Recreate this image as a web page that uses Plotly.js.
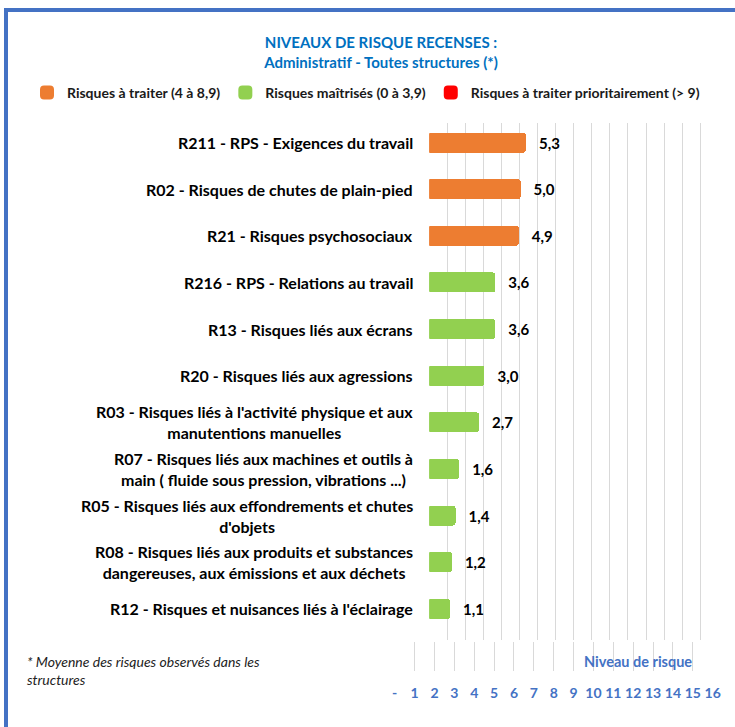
<!DOCTYPE html>
<html>
<head>
<meta charset="utf-8">
<script src="https://cdn.plot.ly/plotly-3.0.1.min.js"></script>
<style>
  html, body { margin: 0; padding: 0; background: #ffffff; }
  #chart { width: 735px; height: 727px; }
  #frame { position: absolute; left: 4px; top: 8px; width: 800px; height: 800px;
           border: 4px solid #4472C4; pointer-events: none; box-sizing: border-box; }
</style>
</head>
<body>
<div id="chart"></div>
<div id="frame"></div>
<script>
// ---- data ----
const categories = [
  "R211 - RPS - Exigences du travail",
  "R02 - Risques de chutes de plain-pied",
  "R21 - Risques psychosociaux",
  "R216 - RPS - Relations au travail",
  "R13 - Risques liés aux écrans",
  "R20 - Risques liés aux agressions",
  "R03 - Risques liés à l'activité physique et aux<br>manutentions manuelles",
  "R07 - Risques liés aux machines et outils à<br>main ( fluide sous pression, vibrations ...)",
  "R05 - Risques liés aux effondrements et chutes<br>d'objets",
  "R08 - Risques liés aux produits et substances<br>dangereuses, aux émissions et aux déchets",
  "R12 - Risques et nuisances liés à l'éclairage"
];
const values = [5.3, 5.0, 4.9, 3.6, 3.6, 3.0, 2.7, 1.6, 1.4, 1.2, 1.1];
const seriesNames = ["Risques à traiter (4 à 8,9)", "Risques maîtrisés (0 à 3,9)", "Risques à traiter prioritairement (> 9)"];
const seriesColors = ["#ED7D31", "#92D050", "#FF0000"];
const levelTicks = [0, 1, 2, 3, 4, 5, 6, 7, 8, 9, 10, 11, 12, 13, 14, 15, 16];
const levelTickLabels = ["-", "1", "2", "3", "4", "5", "6", "7", "8", "9", "10", "11", "12", "13", "14", "15", "16"];

const FONT = "Lato, 'Open Sans', sans-serif";
const W = 735, H = 727;
const px = v => v / W;
const py = v => 1 - v / H;

// class of each category by the legend's thresholds
function levelOf(v) { return v >= 9 ? 2 : (v >= 4 ? 0 : 1); }

const traces = [0, 1, 2].map(k => {
  const ys = [], xs = [];
  categories.forEach((c, i) => { if (levelOf(values[i]) === k) { ys.push(c); xs.push(values[i]); } });
  if (ys.length === 0) { ys.push(categories[0]); xs.push(null); }
  return {
    type: "bar", orientation: "h", name: seriesNames[k],
    y: ys, x: xs,
    marker: { color: seriesColors[k], cornerradius: 2, line: { color: seriesColors[k], width: 2 } },
    text: xs.map(v => v == null ? "" : "\u00a0\u00a0\u00a0" + v.toFixed(1).replace(".", ",")),
    textposition: "outside", cliponaxis: false, constraintext: "none",
    textfont: { family: FONT, size: 15, color: "#000000", weight: 700 },
    hoverinfo: "skip", xaxis: "x", yaxis: "y"
  };
});
// carrier for the lower "Niveau de risque" scale
traces.push({
  type: "scatter", mode: "markers", x: [null], y: [null], xaxis: "x2", yaxis: "y2",
  showlegend: false, hoverinfo: "skip"
});

const annotations = categories.map(c => ({
  xref: "paper", yref: "y", x: px(415), y: c, xanchor: "right", yanchor: "middle",
  align: "center", showarrow: false, text: "<b>" + c + "</b>",
  font: { family: FONT, size: 16, color: "#000000" }
}));
annotations.push({
  xref: "paper", yref: "paper", x: px(25), y: py(651), xanchor: "left", yanchor: "top",
  align: "left", showarrow: false,
  text: "<i>* Moyenne des risques observés dans les<br>structures</i>",
  font: { family: FONT, size: 14, color: "#222222" }
});
annotations.push({
  xref: "paper", yref: "paper", x: px(638), y: py(661), xanchor: "center", yanchor: "middle",
  showarrow: false, text: "<b>Niveau de risque</b>",
  font: { family: FONT, size: 14.5, color: "#4472C4" }
});

const layout = {
  width: W, height: H,
  margin: { l: 0, r: 0, t: 0, b: 0 },
  paper_bgcolor: "#ffffff", plot_bgcolor: "rgba(0,0,0,0)",
  separators: ", ",
  showlegend: true,
  barmode: "stack", bargap: 0.614,
  title: {
    text: "<b>NIVEAUX DE RISQUE RECENSES :</b><br><b>Administratif - Toutes structures (*)</b>",
    font: { family: FONT, size: 15, color: "#0070C0" },
    x: px(381), xanchor: "center", xref: "paper",
    y: py(48), yanchor: "middle", yref: "container"
  },
  legend: {
    orientation: "h", x: px(27), y: py(93), xanchor: "left", yanchor: "middle",
    font: { family: FONT, size: 14, color: "#1a1a1a", weight: 700 },
    bgcolor: "rgba(0,0,0,0)", traceorder: "normal"
  },
  xaxis: {
    domain: [px(429.3), px(718.3)], range: [0, 16], dtick: 1, tick0: 0,
    showgrid: true, gridcolor: "#D9D9D9", gridwidth: 1,
    zeroline: false, showline: false, showticklabels: false, ticks: "",
    anchor: "y", fixedrange: true
  },
  yaxis: {
    domain: [py(640), py(123)], type: "category", categoryorder: "array",
    categoryarray: categories, range: [10.67, -0.42],
    showticklabels: false, showgrid: false, zeroline: false, showline: false, ticks: "",
    anchor: "x", fixedrange: true
  },
  xaxis2: {
    domain: [px(394.7), px(712.7)], range: [0, 16], anchor: "y2",
    tickmode: "array", tickvals: levelTicks, ticktext: levelTickLabels,
    showgrid: true, gridcolor: "#D9D9D9", gridwidth: 1,
    zeroline: false, showline: false,
    ticks: "outside", ticklen: 9, tickcolor: "rgba(0,0,0,0)",
    tickfont: { family: FONT, size: 14, color: "#4472C4", weight: 700 },
    fixedrange: true
  },
  yaxis2: {
    domain: [py(671), py(641.7)], range: [0, 1], anchor: "x2",
    showgrid: false, zeroline: false, showline: false, showticklabels: false, ticks: "",
    fixedrange: true
  },
  annotations: annotations
};

Plotly.newPlot("chart", traces, layout, { displayModeBar: false, staticPlot: true });
</script>
</body>
</html>
